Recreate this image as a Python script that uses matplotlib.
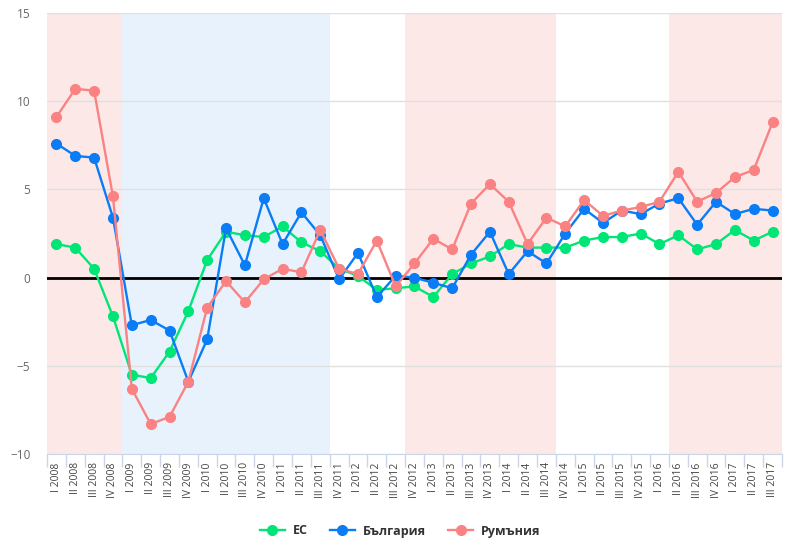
import matplotlib.pyplot as plt
import numpy as np

plt.rcParams['font.family'] = ['Open Sans', 'DejaVu Sans']

quarters = []
for year in range(2008, 2018):
    for q in ["I", "II", "III", "IV"]:
        quarters.append(q + " " + str(year))
quarters = quarters[:39]

eu = [1.9, 1.7, 0.5, -2.2, -5.5, -5.7, -4.2, -1.9,
      1.0, 2.6, 2.4, 2.3, 2.9, 2.0, 1.5, 0.5,
      0.1, -0.7, -0.6, -0.5, -1.1, 0.2, 0.8, 1.2,
      1.9, 1.7, 1.7, 1.7, 2.1, 2.3, 2.3, 2.5,
      1.9, 2.4, 1.6, 1.9, 2.7, 2.1, 2.6]

bulgaria = [7.6, 6.9, 6.8, 3.4, -2.7, -2.4, -3.0, -5.9,
            -3.5, 2.8, 0.7, 4.5, 1.9, 3.7, 2.4, -0.1,
            1.4, -1.1, 0.1, 0.0, -0.3, -0.6, 1.3, 2.6,
            0.2, 1.5, 0.8, 2.5, 3.9, 3.1, 3.8, 3.6,
            4.2, 4.5, 3.0, 4.3, 3.6, 3.9, 3.8]

romania = [9.1, 10.7, 10.6, 4.6, -6.3, -8.3, -7.9, -5.9,
           -1.7, -0.2, -1.4, -0.1, 0.5, 0.3, 2.7, 0.5,
           0.2, 2.1, -0.5, 0.8, 2.2, 1.6, 4.2, 5.3,
           4.3, 1.9, 3.4, 2.9, 4.4, 3.5, 3.8, 4.0,
           4.3, 6.0, 4.3, 4.8, 5.7, 6.1, 8.8]

# shaded periods (first quarter, last quarter, colour)
bands = [("I 2008", "IV 2008", "#fde8e8"),
         ("I 2009", "III 2011", "#e8f2fd"),
         ("IV 2012", "III 2014", "#fde8e8"),
         ("II 2016", "III 2017", "#fde8e8")]

x = np.arange(len(quarters))

fig = plt.figure(figsize=(8, 5.48), dpi=100)
ax = fig.add_axes([47 / 800, 1 - 454 / 548, 735 / 800, 441 / 548])

for start, end, color in bands:
    ax.axvspan(quarters.index(start) - 0.5, quarters.index(end) + 0.5,
               color=color, lw=0, zorder=0)

ax.set_ylim(-10, 15)
ax.set_yticks([-10, -5, 0, 5, 10, 15])
ax.yaxis.grid(True, color="#e0e0e0", lw=1, zorder=0.5)
ax.set_axisbelow(True)
ax.axhline(0, color="black", lw=2, zorder=1)

ax.plot(x, eu, color="#00e676", lw=1.7, marker="o", ms=7, label="ЕС", zorder=3)
ax.plot(x, bulgaria, color="#0a7cf5", lw=1.7, marker="o", ms=7, label="България", zorder=3)
ax.plot(x, romania, color="#fa8282", lw=1.7, marker="o", ms=7, label="Румъния", zorder=3)

ax.set_xlim(-0.5, len(quarters) - 0.5)
ax.set_xticks(x)
ax.set_xticklabels(quarters, rotation=90, va="top", ha="center",
                   fontsize=7.5, color="#444444")
ax.set_xticks(np.arange(len(quarters) + 1) - 0.5, minor=True)
ax.tick_params(axis="x", which="major", length=0, pad=6)
ax.tick_params(axis="x", which="minor", length=9, color="#ccd6eb", width=1)
ax.tick_params(axis="y", length=0, labelsize=8.5, labelcolor="#666666", pad=12)

for side in ["top", "right", "left"]:
    ax.spines[side].set_visible(False)
ax.spines["bottom"].set_color("#ccd6eb")

fig.legend(loc="center", bbox_to_anchor=(0.5, 1 - 531 / 548), ncol=3,
           frameon=False, prop={"weight": "bold", "size": 9},
           labelcolor="#333333", handlelength=2.0, columnspacing=1.8,
           handletextpad=0.6)

plt.savefig("out.png", dpi=100)
